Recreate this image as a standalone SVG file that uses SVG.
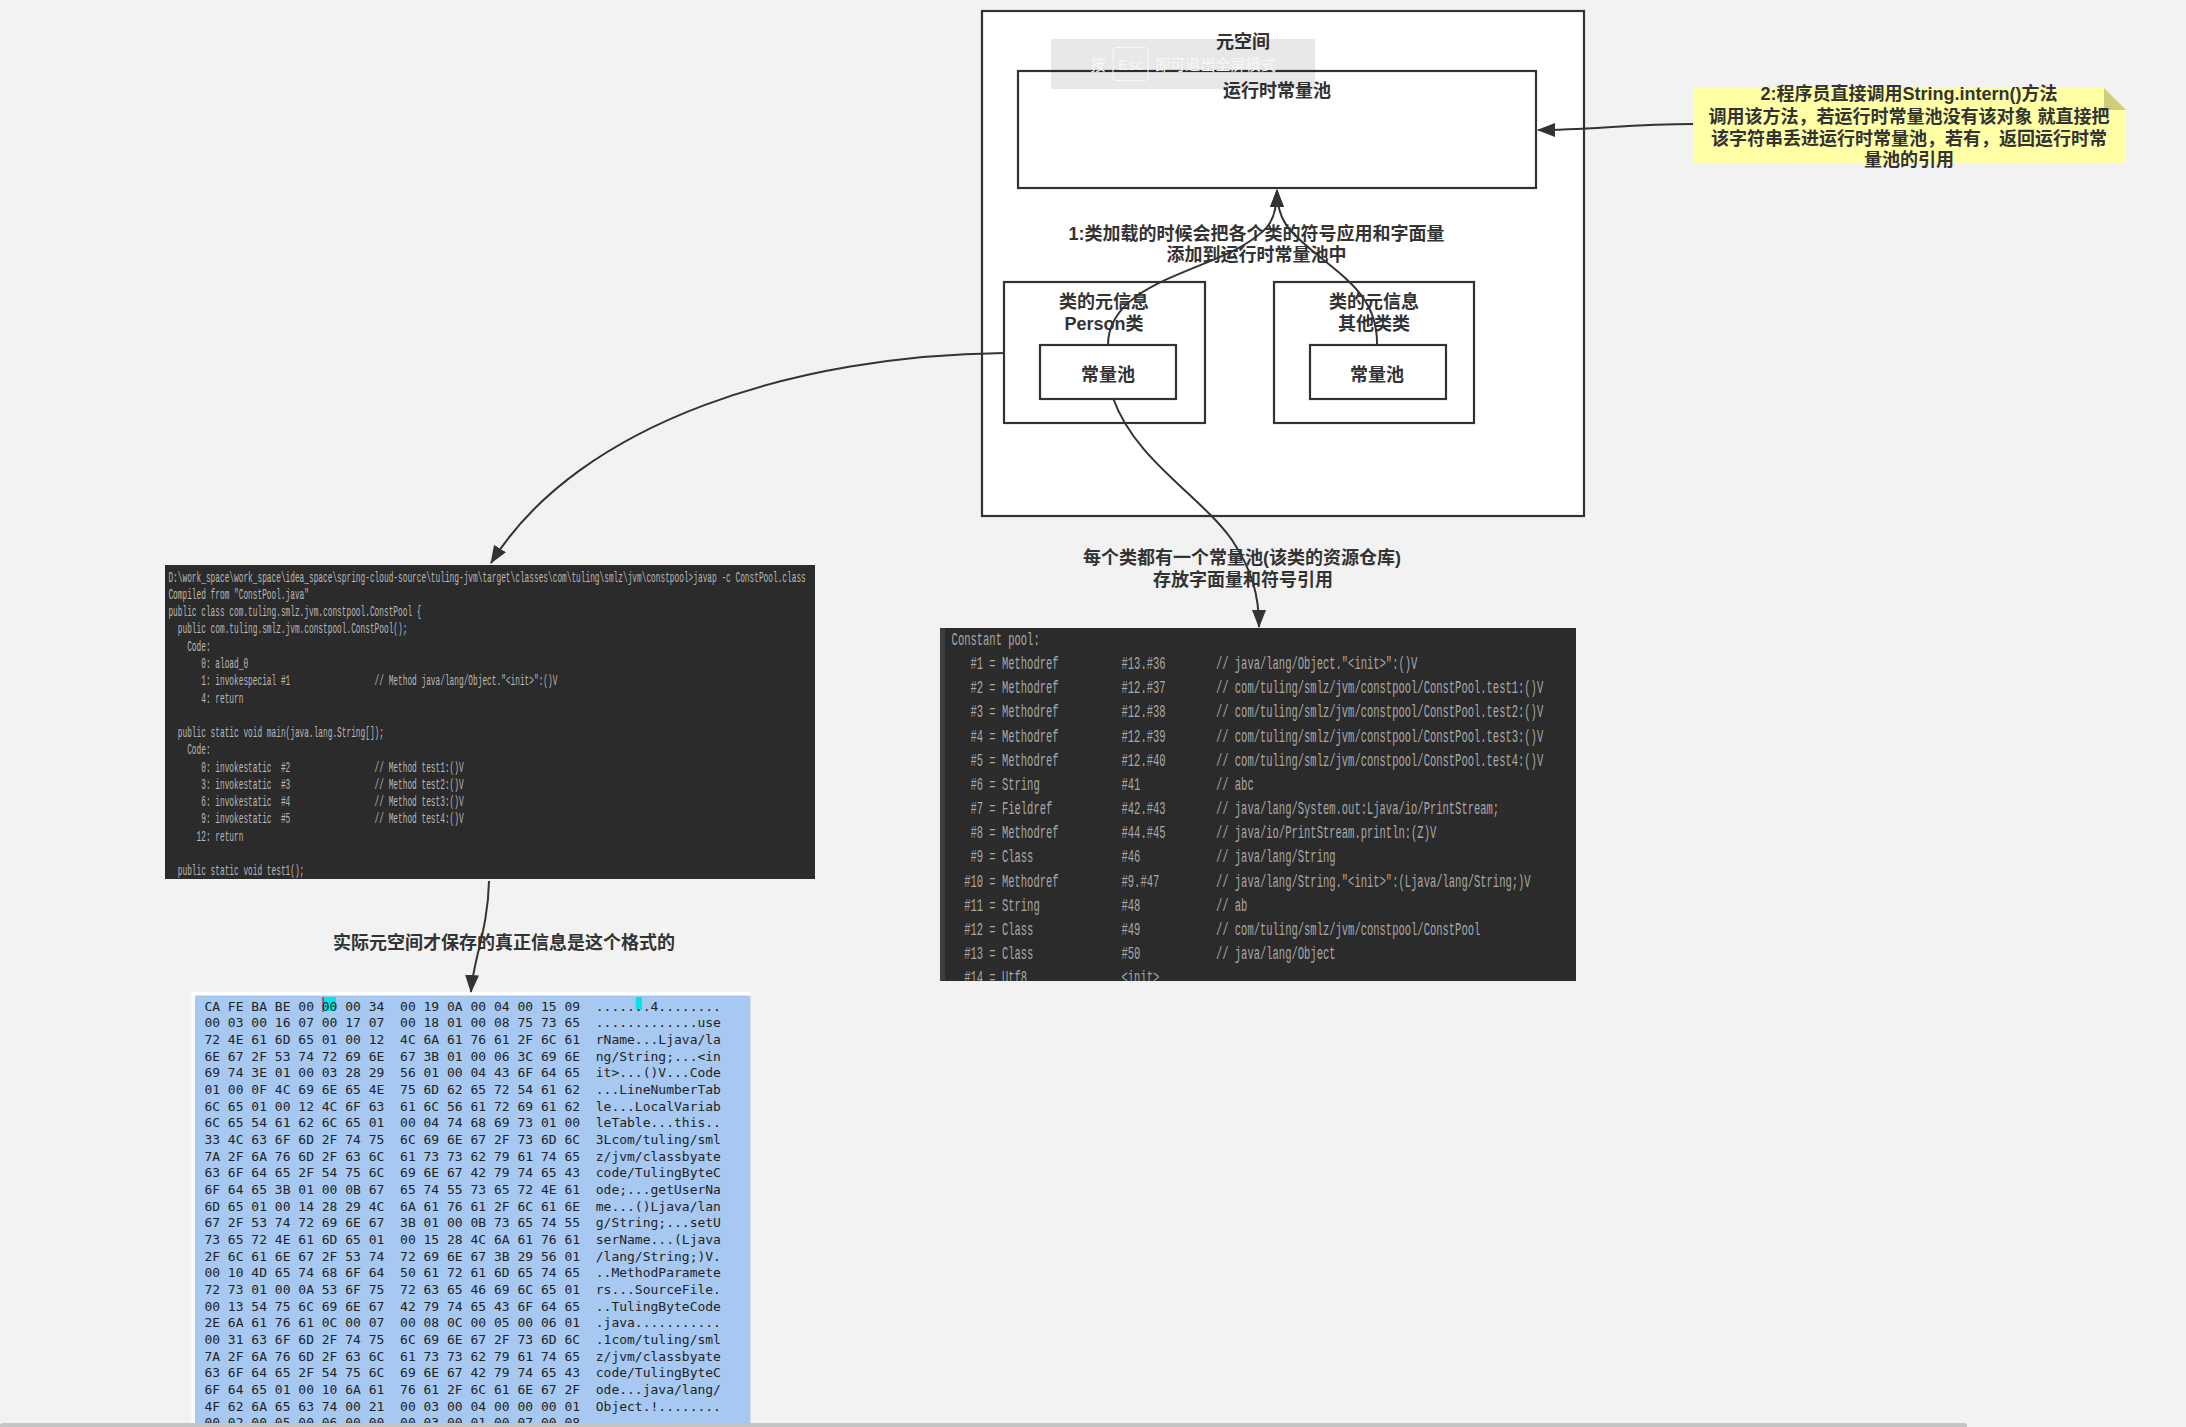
<svg xmlns="http://www.w3.org/2000/svg" width="2186" height="1427" viewBox="0 0 2186 1427">
  <defs>
    <style>
      .box { fill: #fff; stroke: #323232; stroke-width: 2.2; }
      .cn { font-family: 'Liberation Sans', 'Noto Sans CJK SC', sans-serif; font-size: 18px; font-weight: bold; fill: #333; text-anchor: middle; }
      .link { fill: none; stroke: #333; stroke-width: 2; }
      .code { font-family: 'Liberation Mono', monospace; white-space: pre; }
      .javap { font-size: 14px; fill: #b9b9b9; }
      .pool { font-size: 18px; fill: #a8a8a8; }
      .hex { font-family: 'DejaVu Sans Mono', monospace; font-size: 13px; fill: #222; white-space: pre; }
      .hint { font-family: 'Liberation Sans', 'Noto Sans CJK SC', sans-serif; font-size: 15px; fill: #f7f7f7; }
    </style>
    <marker id="arrow" markerUnits="userSpaceOnUse" markerWidth="18" markerHeight="14" refX="17" refY="7" orient="auto">
      <path d="M0,0 L18,7 L0,14 z" fill="#333"/>
    </marker>
    <clipPath id="clip-javap"><rect x="165" y="565" width="650" height="314"/></clipPath>
    <clipPath id="clip-pool"><rect x="940" y="628" width="636" height="353"/></clipPath>
    <clipPath id="clip-hex"><rect x="191" y="992" width="560" height="431"/></clipPath>
  </defs>

  <!-- canvas -->
  <rect x="0" y="0" width="2186" height="1427" fill="#f2f2f2"/>

  <!-- metaspace container -->
  <g id="metaspace">
    <rect class="box" x="982" y="11" width="602" height="505"/>
    <text class="cn" x="1243" y="47.5">元空间</text>
  </g>

  <!-- runtime constant pool -->
  <g id="runtime-pool">
    <rect class="box" x="1018" y="71" width="518" height="117"/>
    <text class="cn" x="1277" y="96.5">运行时常量池</text>
  </g>

  <!-- class metadata: Person -->
  <g id="class-person">
    <rect class="box" x="1004" y="282" width="201" height="141"/>
    <text class="cn" x="1104" y="308">类的元信息</text>
    <text class="cn" x="1104" y="330">Person类</text>
  </g>
  <g id="person-pool">
    <rect class="box" x="1040" y="345" width="136" height="54"/>
    <text class="cn" x="1108" y="380.5">常量池</text>
  </g>

  <!-- class metadata: other classes -->
  <g id="class-other">
    <rect class="box" x="1274" y="282" width="200" height="141"/>
    <text class="cn" x="1374" y="308">类的元信息</text>
    <text class="cn" x="1374" y="330">其他类类</text>
  </g>
  <g id="other-pool">
    <rect class="box" x="1310" y="345" width="136" height="54"/>
    <text class="cn" x="1377" y="380.5">常量池</text>
  </g>

  <!-- sticky note: String.intern() -->
  <g id="note-intern">
    <path d="M1693,88 H2104 L2126,110 V163 H1693 Z" fill="#ffffa6"/>
    <path d="M2104,88 L2104,110 L2126,110 Z" fill="#cfcd7e"/>
    <text class="cn" x="1909" y="100">2:程序员直接调用String.intern()方法</text>
    <text class="cn" x="1909" y="122.8">调用该方法，若运行时常量池没有该对象 就直接把</text>
    <text class="cn" x="1909" y="145">该字符串丢进运行时常量池，若有，返回运行时常</text>
    <text class="cn" x="1909" y="166">量池的引用</text>
  </g>

  <!-- free labels -->
  <g id="label-load">
    <text class="cn" x="1256.5" y="239.5">1:类加载的时候会把各个类的符号应用和字面量</text>
    <text class="cn" x="1256.5" y="260.5">添加到运行时常量池中</text>
  </g>
  <g id="label-class-pool">
    <text class="cn" x="1242" y="563.5">每个类都有一个常量池(该类的资源仓库)</text>
    <text class="cn" x="1243" y="585.5">存放字面量和符号引用</text>
  </g>
  <g id="label-real-format">
    <text class="cn" x="504" y="949">实际元空间才保存的真正信息是这个格式的</text>
  </g>

  <!-- javap -c output -->
  <g id="javap-code">
    <rect x="165" y="565" width="650" height="314" fill="#2b2b2b"/>
    <g clip-path="url(#clip-javap)">
      <g class="code javap" transform="translate(168.4,0) scale(0.5583,1)">
        <text x="0" y="581.7" xml:space="preserve">D:\work_space\work_space\idea_space\spring-cloud-source\tuling-jvm\target\classes\com\tuling\smlz\jvm\constpool&gt;javap -c ConstPool.class</text>
        <text x="0" y="599" xml:space="preserve">Compiled from "ConstPool.java"</text>
        <text x="0" y="616.2" xml:space="preserve">public class com.tuling.smlz.jvm.constpool.ConstPool {</text>
        <text x="0" y="633.5" xml:space="preserve">  public com.tuling.smlz.jvm.constpool.ConstPool();</text>
        <text x="0" y="650.8" xml:space="preserve">    Code:</text>
        <text x="0" y="668" xml:space="preserve">       0: aload_0</text>
        <text x="0" y="685.3" xml:space="preserve">       1: invokespecial #1                  // Method java/lang/Object."&lt;init&gt;":()V</text>
        <text x="0" y="702.6" xml:space="preserve">       4: return</text>
        <text x="0" y="737.1" xml:space="preserve">  public static void main(java.lang.String[]);</text>
        <text x="0" y="754.4" xml:space="preserve">    Code:</text>
        <text x="0" y="771.7" xml:space="preserve">       0: invokestatic  #2                  // Method test1:()V</text>
        <text x="0" y="789" xml:space="preserve">       3: invokestatic  #3                  // Method test2:()V</text>
        <text x="0" y="806.2" xml:space="preserve">       6: invokestatic  #4                  // Method test3:()V</text>
        <text x="0" y="823.5" xml:space="preserve">       9: invokestatic  #5                  // Method test4:()V</text>
        <text x="0" y="840.8" xml:space="preserve">      12: return</text>
        <text x="0" y="875.3" xml:space="preserve">  public static void test1();</text>
      </g>
    </g>
  </g>

  <!-- constant pool listing -->
  <g id="constant-pool">
    <rect x="940" y="628" width="636" height="353" fill="#2b2b2b"/>
    <rect x="940" y="628" width="5" height="353" fill="#3c3f41"/>
    <g clip-path="url(#clip-pool)">
      <g class="code pool" transform="translate(951.6,0) scale(0.5833,1)">
        <text x="0" y="645.2" xml:space="preserve">Constant pool:</text>
        <text x="0" y="669.2" xml:space="preserve">   #1 = Methodref          #13.#36        // java/lang/Object."&lt;init&gt;":()V</text>
        <text x="0" y="693.4" xml:space="preserve">   #2 = Methodref          #12.#37        // com/tuling/smlz/jvm/constpool/ConstPool.test1:()V</text>
        <text x="0" y="717.5" xml:space="preserve">   #3 = Methodref          #12.#38        // com/tuling/smlz/jvm/constpool/ConstPool.test2:()V</text>
        <text x="0" y="741.7" xml:space="preserve">   #4 = Methodref          #12.#39        // com/tuling/smlz/jvm/constpool/ConstPool.test3:()V</text>
        <text x="0" y="765.9" xml:space="preserve">   #5 = Methodref          #12.#40        // com/tuling/smlz/jvm/constpool/ConstPool.test4:()V</text>
        <text x="0" y="790" xml:space="preserve">   #6 = String             #41            // abc</text>
        <text x="0" y="814.2" xml:space="preserve">   #7 = Fieldref           #42.#43        // java/lang/System.out:Ljava/io/PrintStream;</text>
        <text x="0" y="838.4" xml:space="preserve">   #8 = Methodref          #44.#45        // java/io/PrintStream.println:(Z)V</text>
        <text x="0" y="862.5" xml:space="preserve">   #9 = Class              #46            // java/lang/String</text>
        <text x="0" y="886.7" xml:space="preserve">  #10 = Methodref          #9.#47         // java/lang/String."&lt;init&gt;":(Ljava/lang/String;)V</text>
        <text x="0" y="910.9" xml:space="preserve">  #11 = String             #48            // ab</text>
        <text x="0" y="935" xml:space="preserve">  #12 = Class              #49            // com/tuling/smlz/jvm/constpool/ConstPool</text>
        <text x="0" y="959.2" xml:space="preserve">  #13 = Class              #50            // java/lang/Object</text>
        <text x="0" y="983.4" xml:space="preserve">  #14 = Utf8               &lt;init&gt;</text>
      </g>
    </g>
  </g>

  <!-- class file hex dump -->
  <g id="hex-dump">
    <rect x="191.5" y="992" width="559" height="431" fill="#fff"/>
    <rect x="195" y="995.5" width="555.5" height="427.5" fill="#a7c9f1"/>
    <rect x="323.3" y="997" width="12.7" height="14" fill="#00e6e6"/>
    <rect x="322.3" y="997" width="1.4" height="15" fill="#b03030"/>
    <rect x="635.7" y="997" width="6.3" height="13" fill="#00e6e6"/>
    <g clip-path="url(#clip-hex)">
      <text class="hex" x="204.4" y="1010.5" xml:space="preserve">CA FE BA BE 00 00 00 34  00 19 0A 00 04 00 15 09  .......4........</text>
      <text class="hex" x="204.4" y="1027.2" xml:space="preserve">00 03 00 16 07 00 17 07  00 18 01 00 08 75 73 65  .............use</text>
      <text class="hex" x="204.4" y="1043.8" xml:space="preserve">72 4E 61 6D 65 01 00 12  4C 6A 61 76 61 2F 6C 61  rName...Ljava/la</text>
      <text class="hex" x="204.4" y="1060.5" xml:space="preserve">6E 67 2F 53 74 72 69 6E  67 3B 01 00 06 3C 69 6E  ng/String;...&lt;in</text>
      <text class="hex" x="204.4" y="1077.2" xml:space="preserve">69 74 3E 01 00 03 28 29  56 01 00 04 43 6F 64 65  it&gt;...()V...Code</text>
      <text class="hex" x="204.4" y="1093.8" xml:space="preserve">01 00 0F 4C 69 6E 65 4E  75 6D 62 65 72 54 61 62  ...LineNumberTab</text>
      <text class="hex" x="204.4" y="1110.5" xml:space="preserve">6C 65 01 00 12 4C 6F 63  61 6C 56 61 72 69 61 62  le...LocalVariab</text>
      <text class="hex" x="204.4" y="1127.2" xml:space="preserve">6C 65 54 61 62 6C 65 01  00 04 74 68 69 73 01 00  leTable...this..</text>
      <text class="hex" x="204.4" y="1143.9" xml:space="preserve">33 4C 63 6F 6D 2F 74 75  6C 69 6E 67 2F 73 6D 6C  3Lcom/tuling/sml</text>
      <text class="hex" x="204.4" y="1160.5" xml:space="preserve">7A 2F 6A 76 6D 2F 63 6C  61 73 73 62 79 61 74 65  z/jvm/classbyate</text>
      <text class="hex" x="204.4" y="1177.2" xml:space="preserve">63 6F 64 65 2F 54 75 6C  69 6E 67 42 79 74 65 43  code/TulingByteC</text>
      <text class="hex" x="204.4" y="1193.9" xml:space="preserve">6F 64 65 3B 01 00 0B 67  65 74 55 73 65 72 4E 61  ode;...getUserNa</text>
      <text class="hex" x="204.4" y="1210.5" xml:space="preserve">6D 65 01 00 14 28 29 4C  6A 61 76 61 2F 6C 61 6E  me...()Ljava/lan</text>
      <text class="hex" x="204.4" y="1227.2" xml:space="preserve">67 2F 53 74 72 69 6E 67  3B 01 00 0B 73 65 74 55  g/String;...setU</text>
      <text class="hex" x="204.4" y="1243.9" xml:space="preserve">73 65 72 4E 61 6D 65 01  00 15 28 4C 6A 61 76 61  serName...(Ljava</text>
      <text class="hex" x="204.4" y="1260.5" xml:space="preserve">2F 6C 61 6E 67 2F 53 74  72 69 6E 67 3B 29 56 01  /lang/String;)V.</text>
      <text class="hex" x="204.4" y="1277.2" xml:space="preserve">00 10 4D 65 74 68 6F 64  50 61 72 61 6D 65 74 65  ..MethodParamete</text>
      <text class="hex" x="204.4" y="1293.9" xml:space="preserve">72 73 01 00 0A 53 6F 75  72 63 65 46 69 6C 65 01  rs...SourceFile.</text>
      <text class="hex" x="204.4" y="1310.6" xml:space="preserve">00 13 54 75 6C 69 6E 67  42 79 74 65 43 6F 64 65  ..TulingByteCode</text>
      <text class="hex" x="204.4" y="1327.2" xml:space="preserve">2E 6A 61 76 61 0C 00 07  00 08 0C 00 05 00 06 01  .java...........</text>
      <text class="hex" x="204.4" y="1343.9" xml:space="preserve">00 31 63 6F 6D 2F 74 75  6C 69 6E 67 2F 73 6D 6C  .1com/tuling/sml</text>
      <text class="hex" x="204.4" y="1360.6" xml:space="preserve">7A 2F 6A 76 6D 2F 63 6C  61 73 73 62 79 61 74 65  z/jvm/classbyate</text>
      <text class="hex" x="204.4" y="1377.2" xml:space="preserve">63 6F 64 65 2F 54 75 6C  69 6E 67 42 79 74 65 43  code/TulingByteC</text>
      <text class="hex" x="204.4" y="1393.9" xml:space="preserve">6F 64 65 01 00 10 6A 61  76 61 2F 6C 61 6E 67 2F  ode...java/lang/</text>
      <text class="hex" x="204.4" y="1410.6" xml:space="preserve">4F 62 6A 65 63 74 00 21  00 03 00 04 00 00 00 01  Object.!........</text>
      <text class="hex" x="204.4" y="1427.2" xml:space="preserve">00 02 00 05 00 06 00 00  00 03 00 01 00 07 00 08</text>
    </g>
  </g>

  <!-- connectors -->
  <g id="connectors">
    <path class="link" d="M1693,124 C1630,124 1590,130 1538,130" marker-end="url(#arrow)"/>
    <path class="link" d="M1108,345 C1108,290 1185,275 1235,250 C1268,232 1277,222 1277,190" marker-end="url(#arrow)"/>
    <path class="link" d="M1377,345 C1378,298 1345,278 1315,253 C1290,232 1277,222 1277,190" marker-end="url(#arrow)"/>
    <path class="link" d="M1004,353 C800,355 580,420 491,563" marker-end="url(#arrow)"/>
    <path class="link" d="M1113,398 C1135,460 1200,495 1232,540 C1252,570 1259,595 1259,627" marker-end="url(#arrow)"/>
    <path class="link" d="M489,881 C488,930 473,960 471,992" marker-end="url(#arrow)"/>
  </g>

  <!-- full-screen hint overlay -->
  <g id="esc-hint">
    <rect x="1051" y="39" width="264" height="50" fill="#000" opacity="0.09"/>
    <text class="hint" x="1098" y="69.5" text-anchor="middle">按</text>
    <rect x="1113" y="47.5" width="35" height="33" rx="3" fill="none" stroke="#f7f7f7" stroke-width="1"/>
    <text class="hint" x="1130.5" y="69.5" text-anchor="middle">Esc</text>
    <text class="hint" x="1155" y="69.5" textLength="121">即可退出全屏模式</text>
  </g>

  <!-- horizontal scrollbar -->
  <rect x="0" y="1423" width="1967" height="6" rx="3" fill="#c5c5c5"/>
</svg>
